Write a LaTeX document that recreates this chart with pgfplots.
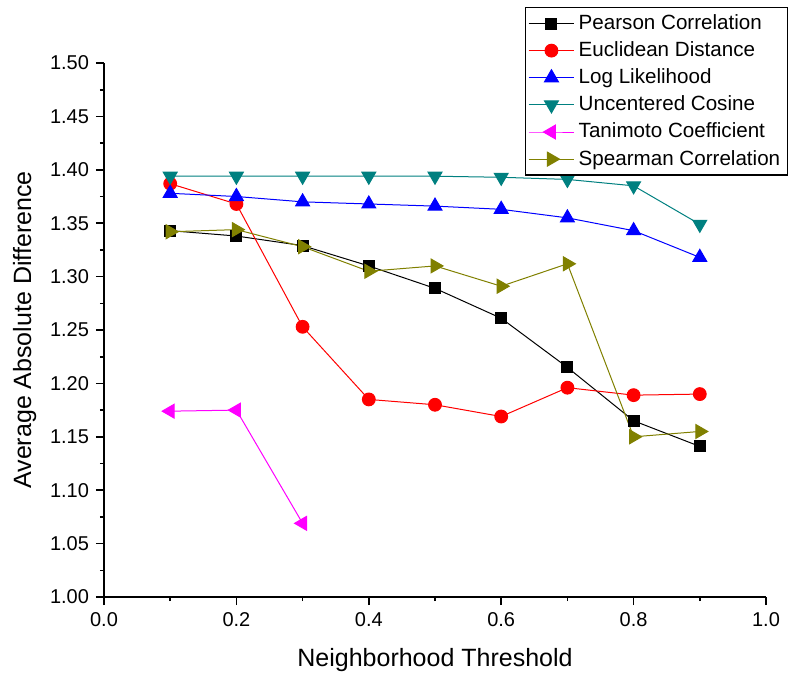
\documentclass[border=0pt]{standalone}
\usepackage{fontspec}
\setmainfont{Liberation Sans}
\usepackage{pgfplots}
\pgfplotsset{compat=1.18}
\definecolor{teal2}{RGB}{0,128,128}
\definecolor{olive2}{RGB}{128,128,0}
\definecolor{mag2}{RGB}{255,0,255}
\begin{document}
\begin{tikzpicture}
\begin{axis}[
  scale only axis,
  width=331pt, height=267pt,
  xmin=0, xmax=1, ymin=1.0, ymax=1.5,
  axis lines*=left,
  axis line style={line width=1pt},
  xtick={0,0.2,...,1.0}, minor xtick={0.1,0.3,0.5,0.7,0.9},
  ytick={1.00,1.05,...,1.501}, minor ytick={1.025,1.075,...,1.5},
  tick align=outside,
  major tick length=4pt, minor tick length=2pt,
  tick style={line width=0.8pt, black},
  xticklabel style={/pgf/number format/.cd, fixed, fixed zerofill, precision=1},
  yticklabel style={/pgf/number format/.cd, fixed, fixed zerofill, precision=2},
  /pgf/number format/assume math mode=true,
  ticklabel style={font=\fontsize{10}{12}\selectfont},
  xlabel={Neighborhood Threshold},
  ylabel={Average Absolute Difference},
  label style={font=\fontsize{12.5}{14}\selectfont},
  xlabel style={yshift=-4pt},
  ylabel style={yshift=0pt},
  clip=false,
  legend cell align=left,
  legend style={at={(1.033,1.105)}, anchor=north east, draw=black, line width=0.6pt,
    font=\fontsize{10.3}{13}\selectfont, row sep=0.6pt, inner sep=1.5pt},
  legend image code/.code={
    \draw[mark repeat=2,mark phase=2] plot coordinates {(0cm,0cm) (0.4cm,0cm) (0.8cm,0cm)};
  },
  every axis plot/.append style={line width=0.5pt},
]
\addplot[black, mark=square*, mark size=2.75pt] coordinates {
(0.1,1.343) (0.2,1.338) (0.3,1.329) (0.4,1.310) (0.5,1.289) (0.6,1.261) (0.7,1.215) (0.8,1.165) (0.9,1.141)};
\addlegendentry{Pearson Correlation}
\addplot[red, mark=*, mark size=3.2pt] coordinates {
(0.1,1.387) (0.2,1.368) (0.3,1.253) (0.4,1.185) (0.5,1.180) (0.6,1.169) (0.7,1.196) (0.8,1.189) (0.9,1.190)};
\addlegendentry{Euclidean Distance}
\addplot[blue, mark=triangle*, mark size=4pt] coordinates {
(0.1,1.378) (0.2,1.375) (0.3,1.370) (0.4,1.368) (0.5,1.366) (0.6,1.363) (0.7,1.355) (0.8,1.343) (0.9,1.318)};
\addlegendentry{Log Likelihood}
\addplot[teal2, mark=triangle*, mark options={rotate=180}, mark size=4pt] coordinates {
(0.1,1.394) (0.2,1.394) (0.3,1.394) (0.4,1.394) (0.5,1.394) (0.6,1.393) (0.7,1.391) (0.8,1.385) (0.9,1.349)};
\addlegendentry{Uncentered Cosine}
\addplot[mag2, mark=triangle*, mark options={rotate=90}, mark size=4pt] coordinates {
(0.1,1.174) (0.2,1.175) (0.3,1.069)};
\addlegendentry{Tanimoto Coefficient}
\addplot[olive2, mark=triangle*, mark options={rotate=-90}, mark size=4pt] coordinates {
(0.1,1.342) (0.2,1.344) (0.3,1.328) (0.4,1.305) (0.5,1.310) (0.6,1.291) (0.7,1.312) (0.8,1.150) (0.9,1.155)};
\addlegendentry{Spearman Correlation}
\end{axis}
\path ([xshift=-52pt,yshift=-40pt]current axis.south west) rectangle ([xshift=11pt,yshift=31.5pt]current axis.north east);
\end{tikzpicture}
\end{document}
